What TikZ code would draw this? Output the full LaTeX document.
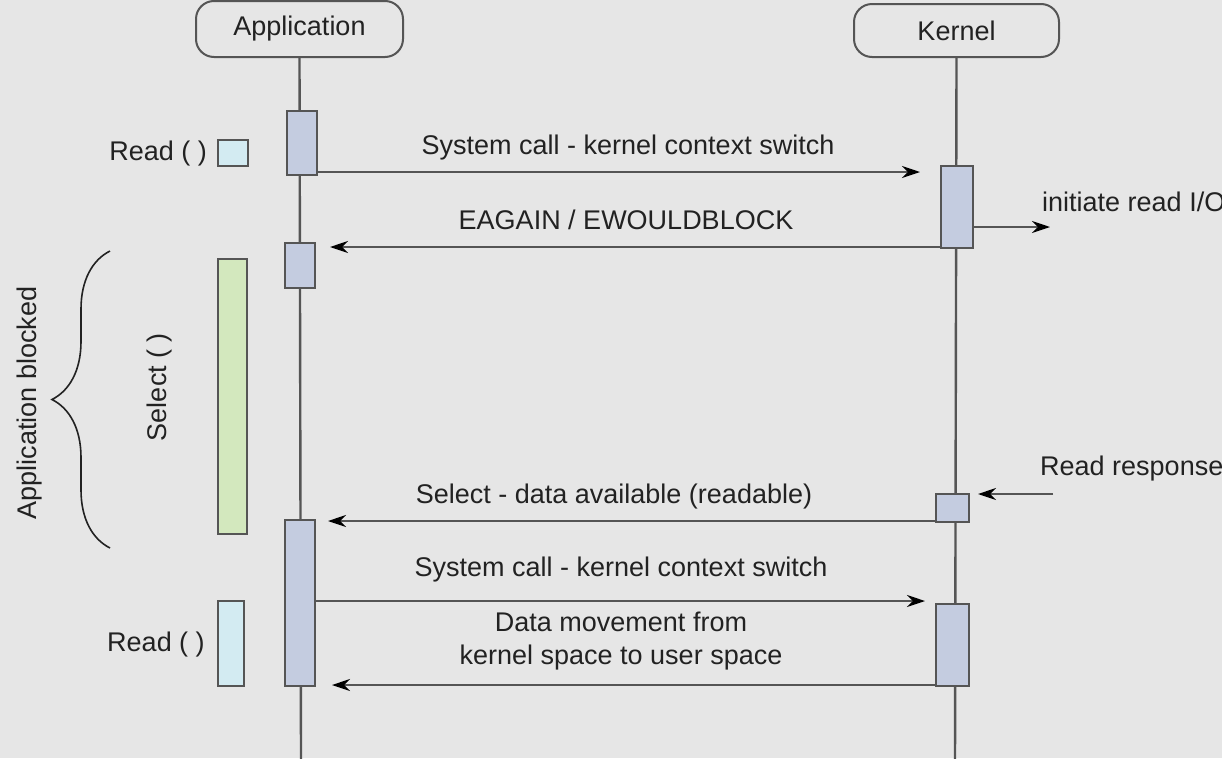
\documentclass[tikz,border=0pt]{standalone}
\usepackage{fontspec}
\setmainfont{Liberation Sans}
\usetikzlibrary{arrows.meta,decorations.pathreplacing}
\definecolor{bg}{HTML}{E6E6E6}
\definecolor{ln}{HTML}{555555}
\definecolor{actfill}{HTML}{C4CCE0}
\definecolor{selfill}{HTML}{D3E8BE}
\definecolor{rdfill}{HTML}{D3EBF2}
\definecolor{txt}{HTML}{222222}
\tikzset{
  every node/.style={text=txt, font=\fontsize{27}{32}\selectfont},
  head/.style={draw=ln, line width=2pt, rounded corners=18pt, inner sep=0pt},
  life/.style={draw=ln, line width=2.4pt},
  act/.style={draw=ln, line width=2pt, fill=actfill, inner sep=0pt},
  selbox/.style={draw=ln, line width=2pt, fill=selfill, inner sep=0pt},
  rdbox/.style={draw=ln, line width=2pt, fill=rdfill, inner sep=0pt},
  msg/.style={draw=ln, line width=2.4pt, -{Stealth[length=18pt,width=12pt,inset=6pt,color=black]}},
  lbl/.style={inner sep=0pt}
}
\begin{document}
\begin{tikzpicture}[x=1pt,y=-1pt]
\fill[bg] (0,0) rectangle (1222,758);
\useasboundingbox (0,0) rectangle (1222,758);
\clip (0,0) rectangle (1222,758);

% heads
\node[head, minimum width=207pt, minimum height=56pt] (app) at (299.5,29) {Application};
\node[head, minimum width=205pt, minimum height=53pt] (ker) at (956.5,30.5) {Kernel};

\coordinate (append) at (301,760);
\coordinate (kerend) at (955,760);
\draw[life] (app.south) -- (append);
\draw[life] (ker.south) -- (kerend);

% application activations
\node[act, minimum width=30pt, minimum height=64pt] (a1) at (302,143) {};
\node[act, minimum width=30pt, minimum height=45pt] (a2) at (300,265.5) {};
\node[act, minimum width=30pt, minimum height=166pt] (a3) at (300,603) {};

% kernel activations
\node[act, minimum width=32pt, minimum height=82pt] (k1) at (957,207) {};
\node[act, minimum width=33pt, minimum height=28pt] (k2) at (952.5,508) {};
\node[act, minimum width=33pt, minimum height=82pt] (k3) at (952.5,645) {};

% left side
\node[rdbox, minimum width=30pt, minimum height=26pt] (r1) at (233,153) {};
\node[lbl, anchor=east] (r1t) at (207,154) {Read ( )};
\node[selbox, minimum width=29pt, minimum height=275pt] (sel) at (232.5,396) {};
\node[lbl, rotate=90] (selt) at (160,387) {Select ( )};
\node[rdbox, minimum width=26pt, minimum height=85pt] (r2) at (231,643.5) {};
\node[lbl] (r2t) at (156,644) {Read ( )};

% brace
\coordinate (bt) at (110,251);
\coordinate (bb) at (110,548);
\draw[draw=txt, line width=1.6pt, decorate, decoration={brace, amplitude=58pt, aspect=0.5}] (bb) -- (bt);
\node[lbl, rotate=90] (blk) at (30,403) {Application blocked};

% messages
\coordinate (m1e) at (920,172);
\draw[msg] (a1.east |- m1e) -- (m1e);
\node[lbl] (m1t) at (628,148) {System call - kernel context switch};

\coordinate (m2e) at (330,247);
\draw[msg] (k1.west |- m2e) -- (m2e);
\node[lbl] (m2t) at (626,220) {EAGAIN / EWOULDBLOCK};

\coordinate (m3e) at (1050,227);
\draw[msg] (k1.east |- m3e) -- (m3e);
\node[lbl, anchor=west] (m3t) at (1042,202) {initiate read I/O};

\coordinate (m4s) at (1053,494);
\coordinate (m4e) at (978,494);
\draw[msg] (m4s) -- (m4e);
\node[lbl, anchor=west] (m4t) at (1040,469) {Read response};

\coordinate (m5e) at (328,521);
\draw[msg] (k2.west |- m5e) -- (m5e);
\node[lbl] (m5t) at (614,497) {Select - data available (readable)};

\coordinate (m6e) at (925,601);
\draw[msg] (a3.east |- m6e) -- (m6e);
\node[lbl] (m6t) at (621,570) {System call - kernel context switch};

\coordinate (m7e) at (332,685);
\draw[msg] (k3.west |- m7e) -- (m7e);
\node[lbl, align=center, font=\fontsize{27}{33}\selectfont] (m7t) at (621,641) {Data movement from\\kernel space to user space};
\end{tikzpicture}
\end{document}
